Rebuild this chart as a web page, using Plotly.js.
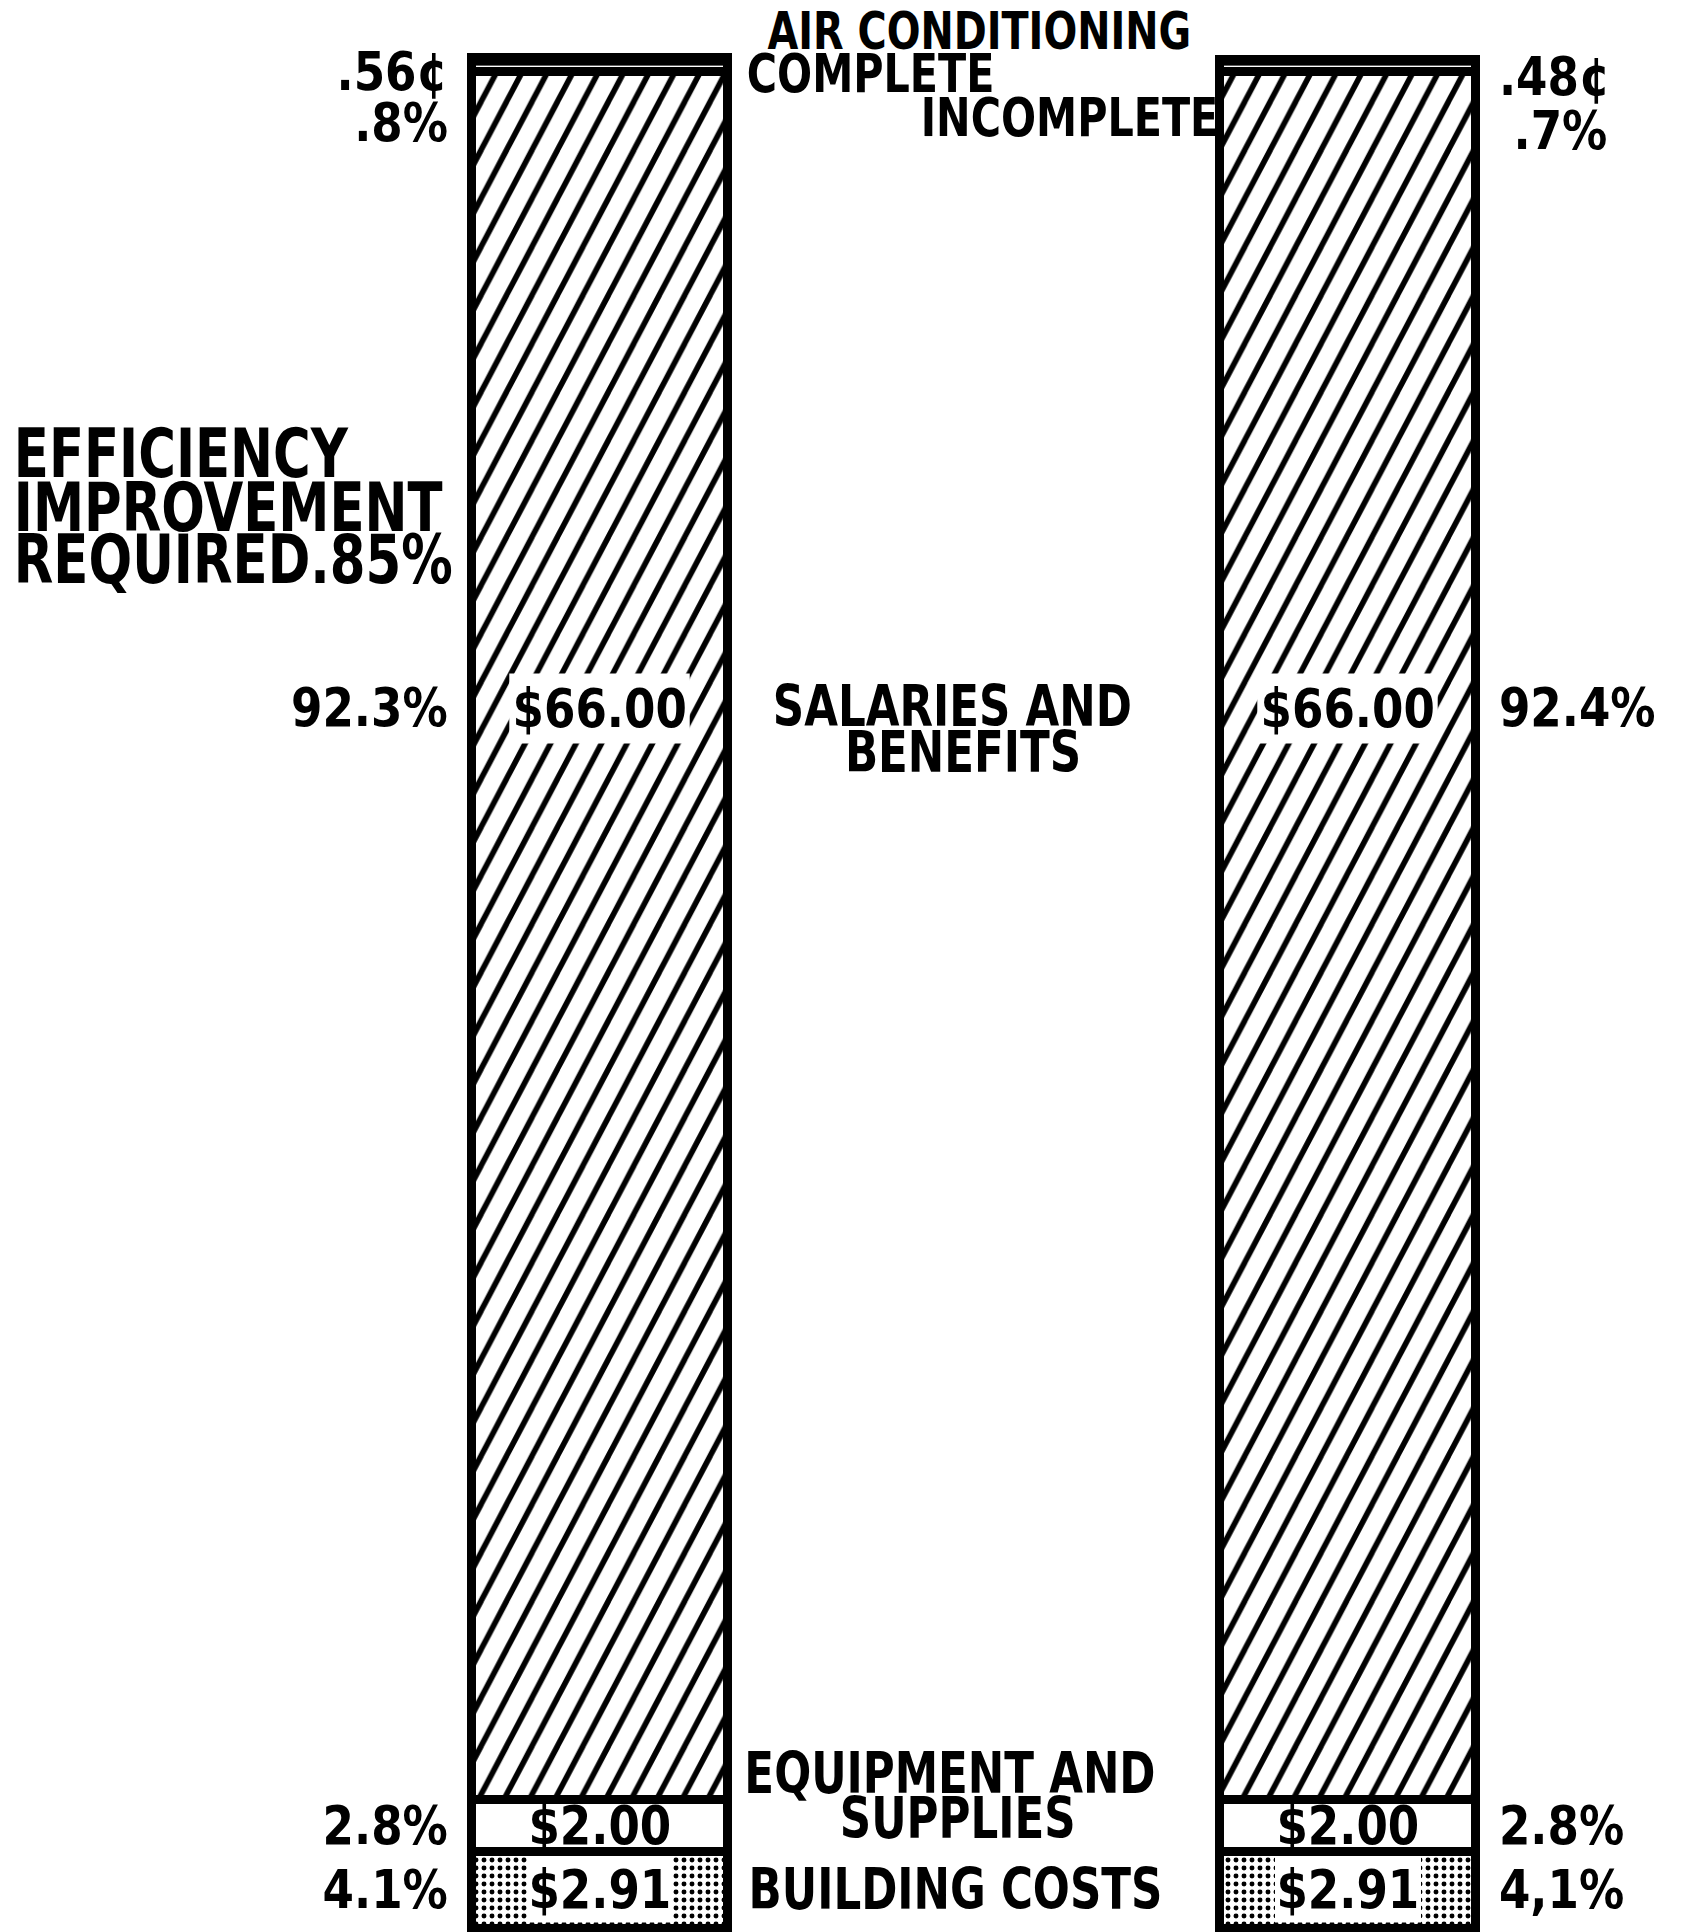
<!DOCTYPE html>
<html>
<head>
<meta charset="utf-8">
<script src="https://cdn.plot.ly/plotly-3.0.1.min.js"></script>
<style>
html,body{margin:0;padding:0;background:#fff;}
#chart{width:1683px;height:1932px;}
</style>
</head>
<body>
<div id="chart"></div>
<script>
// ---- data ----
const bars = ['COMPLETE', 'INCOMPLETE'];
const buildingCosts = [2.91, 2.91];
const equipmentSupplies = [2.00, 2.00];
const salariesBenefits = [66.00, 66.00];
const airConditioning = [0.56, 0.48];
const buildingPct = ['4.1%', '4,1%'];
const equipmentPct = ['2.8%', '2.8%'];
const salariesPct = ['92.3%', '92.4%'];
const airPct = ['.8%', '.7%'];
const airCents = ['.56¢', '.48¢'];
const categoryNames = ['SALARIES AND', 'BENEFITS', 'EQUIPMENT AND', 'SUPPLIES', 'BUILDING COSTS'];
const noteLines = ['EFFICIENCY', 'IMPROVEMENT', 'REQUIRED.85%'];
const airTitle = ['AIR CONDITIONING', 'COMPLETE', 'INCOMPLETE'];

// ---- layout helpers ----
const FW = 1683, FH = 1932;
const FONT = '"DejaVu Sans Condensed", "Liberation Sans Narrow", "DejaVu Sans", sans-serif';
const BAR_W = 0.341;
const GAP = 0.03;
const px = v => v / FW;
const py = v => 1 - v / FH;
const totals = bars.map((_, i) => buildingCosts[i] + equipmentSupplies[i] + salariesBenefits[i] + airConditioning[i]);
const maxTotal = Math.max(...totals);
const scale = (1928 - 57) / maxTotal;
const yRange = [-(FH - 1928) / scale, maxTotal + 57 / scale];

const LINE = {color: '#000', width: 9};
function trace(name, vals, color, pattern) {
  return {
    type: 'bar', name: name, x: bars, y: vals, width: BAR_W,
    marker: {color: color, line: LINE, pattern: pattern},
    hoverinfo: 'skip', showlegend: false
  };
}
const data = [
  trace('Building costs', buildingCosts, '#fff', {shape: '.', fgcolor: '#000', bgcolor: '#fff', fgopacity: 1, size: 8, solidity: 0.3, fillmode: 'overlay'}),
  trace('Equipment and supplies', equipmentSupplies, '#fff', {shape: ''}),
  trace('Salaries and benefits', salariesBenefits, '#fff', {shape: '/', fgcolor: '#000', bgcolor: '#fff', fgopacity: 1, size: 18, solidity: 0.25, fillmode: 'overlay'}),
  trace('Air conditioning', airConditioning, '#000', {shape: '-', fgcolor: '#fff', bgcolor: '#000', fgopacity: 1, size: 7, solidity: 0.25, fillmode: 'overlay'})
];

const annotations = [];
const stretch = [];
function ann(text, x, y, o, sx) {
  o = o || {};
  const font = Object.assign({family: FONT, size: 57, color: '#000', weight: 'bold'}, o.font || {});
  annotations.push(Object.assign({
    text: text, x: x, y: y, xref: 'paper', yref: 'paper', showarrow: false,
    xanchor: 'center', yanchor: 'middle'
  }, o, {font: font}));
  stretch.push(sx || 0.85);
}

// in-bar value labels and outside percentage labels
bars.forEach((b, i) => {
  const box = {xref: 'x', yref: 'y', bgcolor: '#fff', borderpad: 1, font: {size: 54}};
  ann('$' + buildingCosts[i].toFixed(2), i, buildingCosts[i] / 2, box, 0.93);
  ann('$' + equipmentSupplies[i].toFixed(2), i, buildingCosts[i] + equipmentSupplies[i] / 2, {xref: 'x', yref: 'y', font: {size: 54}}, 0.93);
  ann('$' + salariesBenefits[i].toFixed(2), i, py(708), Object.assign({}, box, {yref: 'paper', borderpad: 3}), 0.93);
  const left = i === 0;
  const sx = left ? i - BAR_W / 2 - GAP : i + BAR_W / 2 + GAP;
  const side = {xref: 'x', yref: 'y', xanchor: left ? 'right' : 'left', font: {size: 54}};
  ann(buildingPct[i], sx, buildingCosts[i] / 2, side, 0.93);
  ann(equipmentPct[i], sx, buildingCosts[i] + equipmentSupplies[i] / 2, side, 0.93);
  ann(salariesPct[i], sx, py(707), Object.assign({}, side, {yref: 'paper'}), 0.93);
  ann(airCents[i], sx, py(left ? 71 : 77), Object.assign({}, side, {yref: 'paper'}), 0.93);
});
ann(airPct[0], -BAR_W / 2 - GAP, py(123), {xref: 'x', xanchor: 'right', font: {size: 54}}, 0.93);
ann(airPct[1], px(1560), py(131), {font: {size: 54}}, 0.93);

// middle category names
ann(categoryNames[0], px(952), py(706));
ann(categoryNames[1], px(963), py(752));
ann(categoryNames[2], px(950), py(1773));
ann(categoryNames[3], px(957), py(1818));
ann(categoryNames[4], px(955), py(1889));

// air conditioning titles
ann(airTitle[0], px(979), py(31), {font: {size: 52}});
ann(airTitle[1], px(745), py(74), {xanchor: 'left', font: {size: 54}});
ann(airTitle[2], px(1220), py(118), {xanchor: 'right', font: {size: 54}});

// efficiency note
ann(noteLines[0], px(12), py(453), {xanchor: 'left', font: {size: 68}}, 0.84);
ann(noteLines[1], px(12), py(507), {xanchor: 'left', font: {size: 68}}, 0.84);
ann(noteLines[2], px(12), py(560), {xanchor: 'left', font: {size: 68}}, 0.84);

const layout = {
  width: FW, height: FH, autosize: false,
  margin: {l: 0, r: 0, t: 0, b: 0, pad: 0},
  paper_bgcolor: '#fff', plot_bgcolor: '#fff',
  barmode: 'stack', showlegend: false,
  xaxis: {type: 'category', range: [-599.5 / 748, 1 + (FW - 1347.5) / 748], showgrid: false, zeroline: false, showticklabels: false, showline: false, ticks: ''},
  yaxis: {range: yRange, showgrid: false, zeroline: false, showticklabels: false, showline: false, ticks: ''},
  annotations: annotations
};

Plotly.newPlot('chart', data, layout, {staticPlot: true, displayModeBar: false}).then(gd => {
  // narrow the lettering horizontally, as in the hand-lettered original
  gd.querySelectorAll('g.annotation').forEach(g => {
    const idx = +g.getAttribute('data-index');
    const a = annotations[idx];
    const bb = g.getBBox();
    const ax = a.xanchor === 'left' ? bb.x : a.xanchor === 'right' ? bb.x + bb.width : bb.x + bb.width / 2;
    const s = stretch[idx];
    g.setAttribute('transform', 'translate(' + ax + ',0) scale(' + s + ',1) translate(' + (-ax) + ',0)');
  });
  // steepen the salaries hatching
  const traces = gd.querySelectorAll('.barlayer .trace');
  const salPath = traces[2] && traces[2].querySelector('path');
  if (salPath) {
    const m = (salPath.style.fill || '').match(/#([^"')]+)/);
    if (m) {
      const pat = document.getElementById(m[1]);
      if (pat) pat.setAttribute('patternTransform', 'scale(1,1.9)');
    }
  }
});
</script>
</body>
</html>
